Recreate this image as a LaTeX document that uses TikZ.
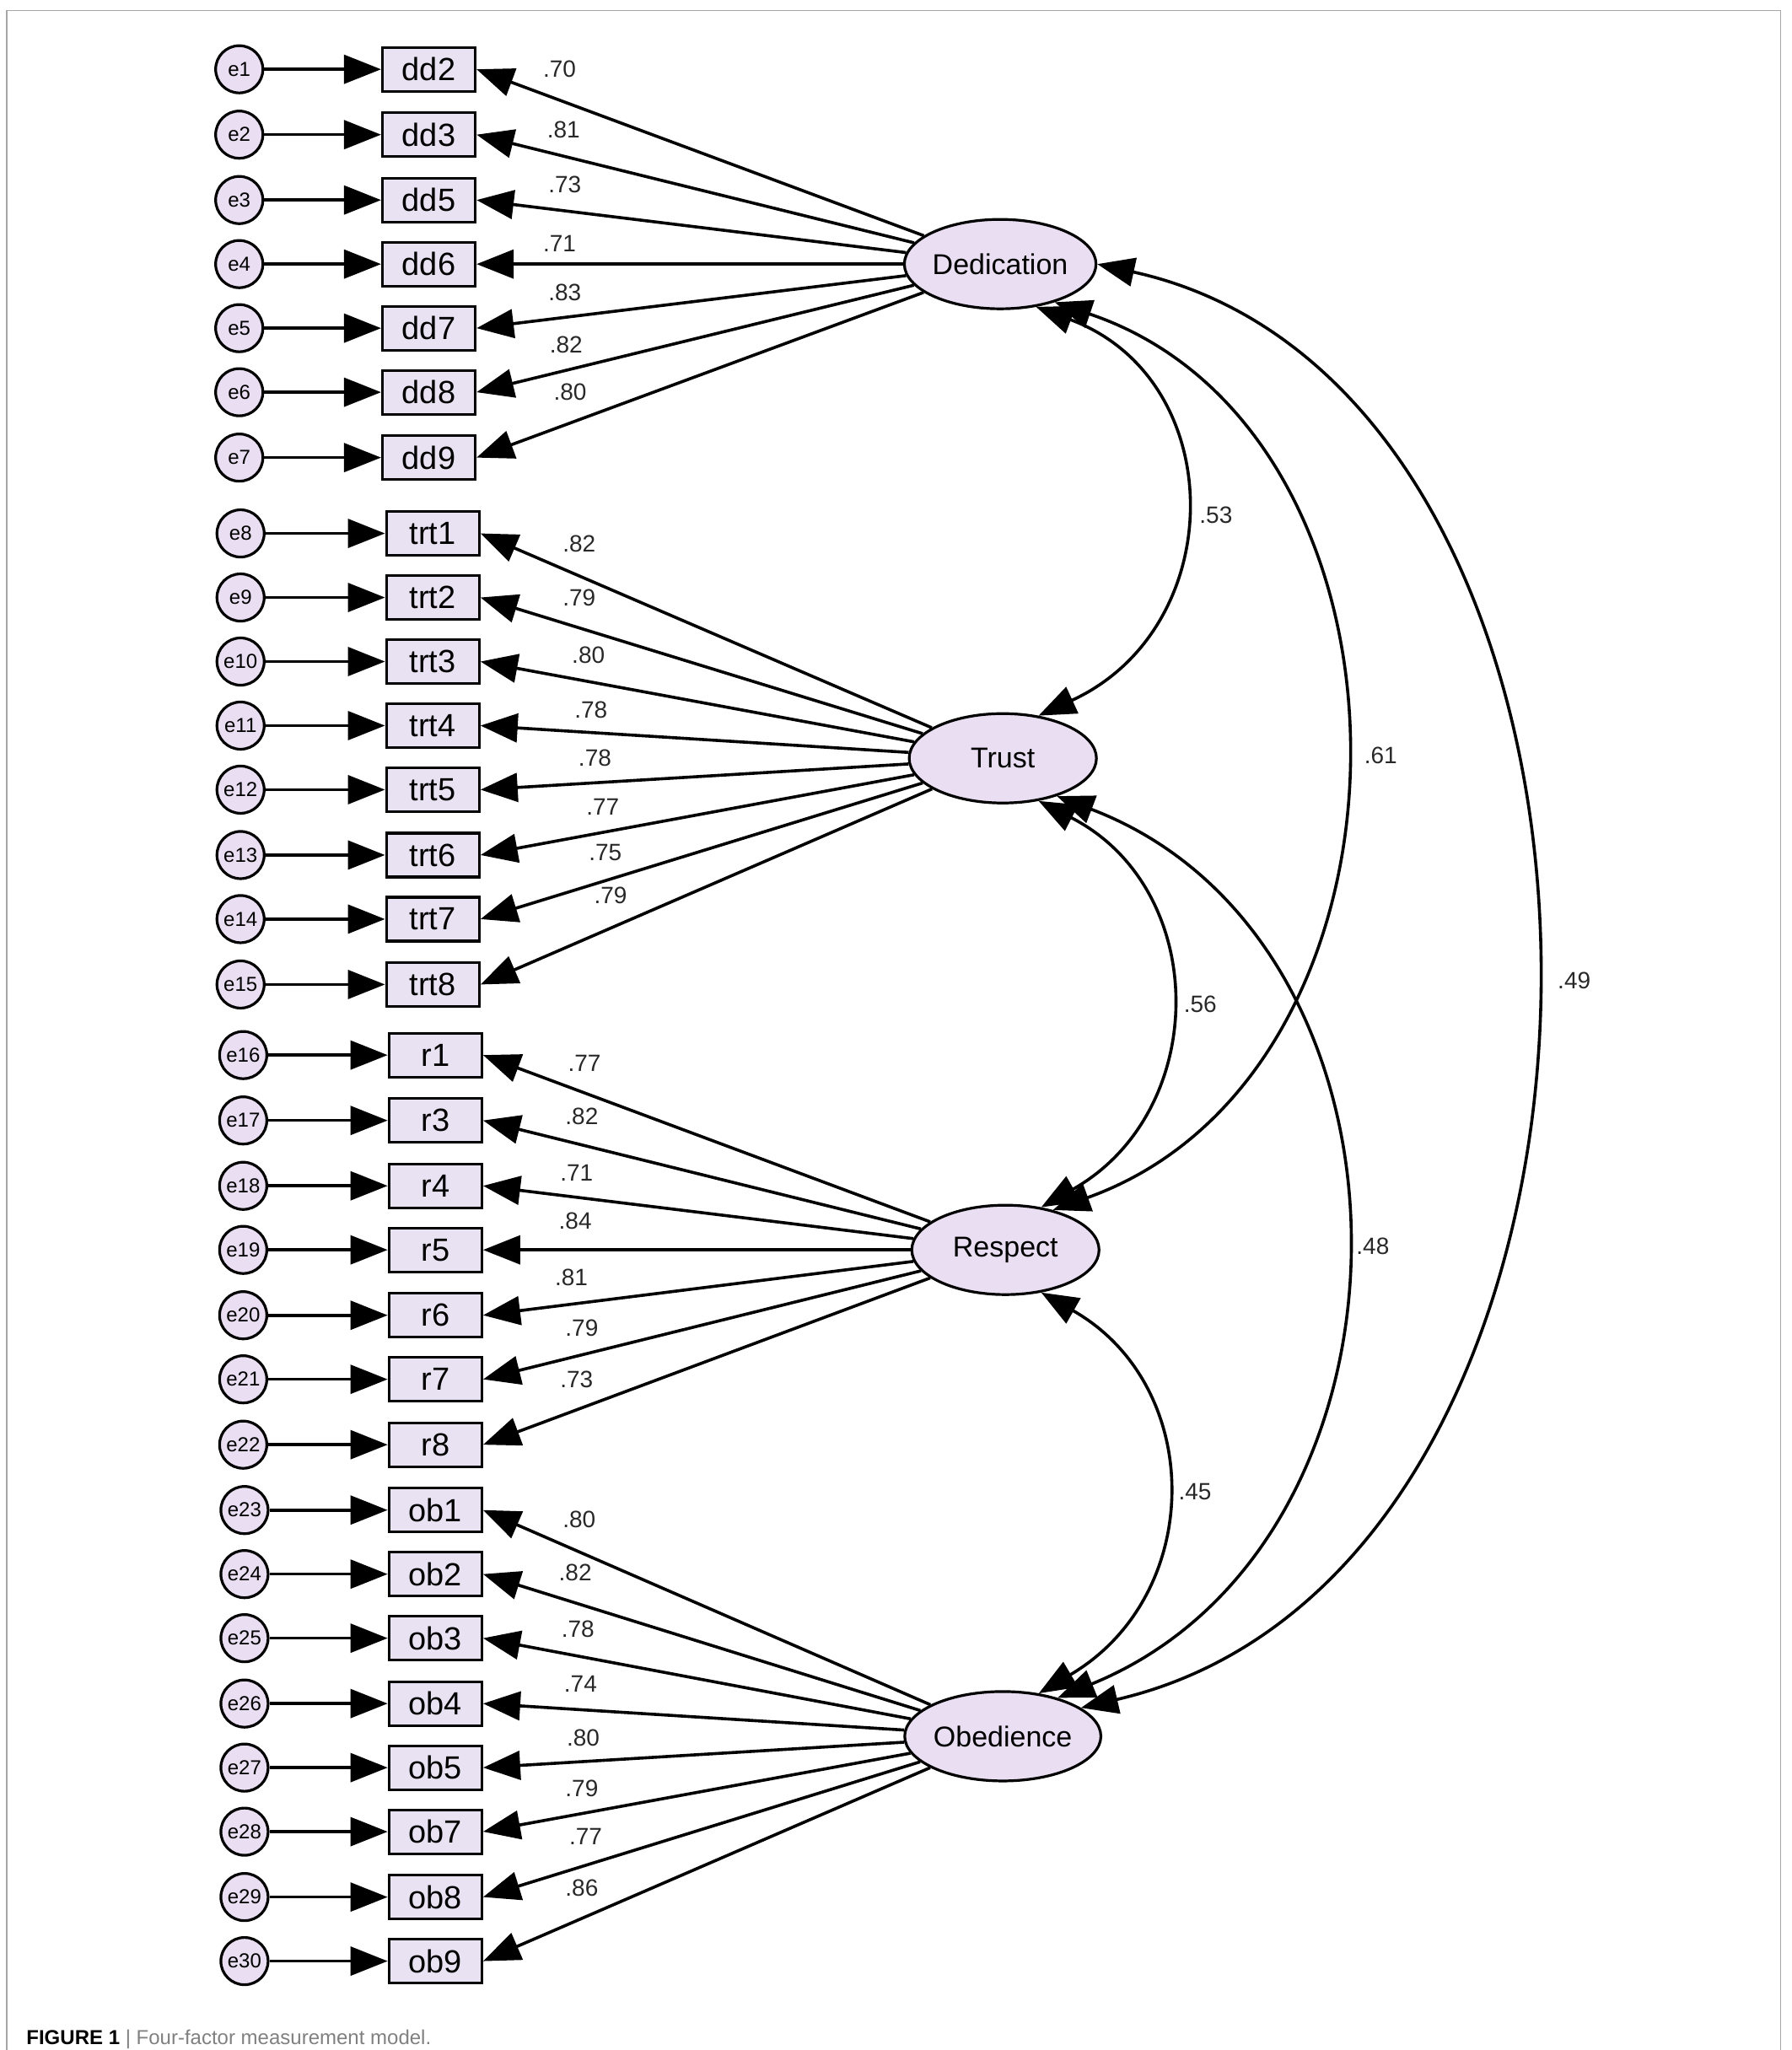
\documentclass[tikz,border=0pt]{standalone}
\usepackage{fontspec}
\setmainfont{Liberation Sans}
\usetikzlibrary{arrows.meta,shapes.geometric}
\definecolor{boxfill}{RGB}{233,226,243}
\definecolor{latfill}{RGB}{234,222,242}
\definecolor{coefc}{RGB}{40,40,40}
\begin{document}
\begin{tikzpicture}[x=0.775pt,y=-0.775pt,
  arr/.style={-{Triangle[length=22pt,width=17pt]},line width=1.8pt},
  darr/.style={{Triangle[length=22pt,width=17pt]}-{Triangle[length=22pt,width=17pt]},line width=1.8pt},
  err/.style={circle,draw,line width=1.6pt,fill=latfill,minimum size=28pt,inner sep=0pt,font=\fontsize{12}{12}\selectfont},
  obs/.style={rectangle,draw,line width=1.6pt,fill=boxfill,minimum width=55pt,minimum height=26pt,inner sep=0pt,font=\fontsize{19}{19}\selectfont},
  lat/.style={ellipse,draw,line width=1.6pt,fill=latfill,minimum width=111pt,minimum height=53pt,inner sep=0pt,font=\fontsize{17}{17}\selectfont},
  coef/.style={text=coefc,font=\fontsize{14}{14}\selectfont}]
\useasboundingbox (0,0) rectangle (1370,1568);
\draw[line width=0.8pt,gray!70] (5,1568) -- (5,8) -- (1362,8) -- (1362,1568);
\node[lat] (ded) at (765,202) {Dedication};
\node[lat] (tru) at (767,580) {Trust};
\node[lat] (res) at (769,956) {Respect};
\node[lat] (obe) at (767,1328) {Obedience};
% Dedication
\foreach \n/\e/\y/\c/\cx/\cy in {dd2/e1/53/.70/428/53, dd3/e2/103/.81/431/99, dd5/e3/153/.73/432/141, dd6/e4/202/.71/428/186, dd7/e5/251/.83/432/224, dd8/e6/300/.82/433/264, dd9/e7/350/.80/436/300}{
  \node[obs] (\n) at (328,\y) {\n};
  \node[err] (\e) at (183,\y) {\e};
  \draw[arr] (\e) -- (\n);
  \draw[arr] (ded) -- (\n.east);
  \node[coef] at (\cx,\cy) {\c};
}
% Trust
\foreach \n/\e/\y/\c/\cx/\cy in {trt1/e8/408/.82/443/416, trt2/e9/457/.79/443/457, trt3/e10/506/.80/450/501, trt4/e11/555/.78/452/543, trt5/e12/604/.78/455/580, trt6/e13/654/.77/461/617, trt7/e14/703/.75/463/652, trt8/e15/753/.79/467/685}{
  \node[obs] (\n) at (331,\y) {\n};
  \node[err] (\e) at (184,\y) {\e};
  \draw[arr] (\e) -- (\n);
  \draw[arr] (tru) -- (\n.east);
  \node[coef] at (\cx,\cy) {\c};
}
% Respect
\foreach \n/\e/\y/\c/\cx/\cy in {r1/e16/807/.77/447/813, r3/e17/857/.82/445/854, r4/e18/907/.71/441/897, r5/e19/956/.84/440/934, r6/e20/1006/.81/437/977, r7/e21/1055/.79/445/1016, r8/e22/1105/.73/441/1055}{
  \node[obs] (\n) at (333,\y) {\n};
  \node[err] (\e) at (186,\y) {\e};
  \draw[arr] (\e) -- (\n);
  \draw[arr] (res) -- (\n.east);
  \node[coef] at (\cx,\cy) {\c};
}
% Obedience
\foreach \n/\e/\y/\c/\cx/\cy in {ob1/e23/1155/.80/443/1162, ob2/e24/1204/.82/440/1203, ob3/e25/1253/.78/442/1246, ob4/e26/1303/.74/444/1288, ob5/e27/1352/.80/446/1329, ob7/e28/1401/.79/445/1368, ob8/e29/1451/.77/448/1405, ob9/e30/1500/.86/445/1444}{
  \node[obs] (\n) at (333,\y) {\n};
  \node[err] (\e) at (187,\y) {\e};
  \draw[arr] (\e) -- (\n);
  \draw[arr] (obe) -- (\n.east);
  \node[coef] at (\cx,\cy) {\c};
}
% covariances
\draw[darr] (ded.-50) .. controls (941,290) and (941,480) .. (tru.50);
\draw[darr] (ded.-35) .. controls (1100,330) and (1100,820) .. (res.40);
\draw[darr] (ded.east) .. controls (1285,300) and (1285,1200) .. (obe.20);
\draw[darr] (tru.-50) .. controls (926,680) and (926,850) .. (res.50);
\draw[darr] (tru.-35) .. controls (1100,720) and (1100,1180) .. (obe.35);
\draw[darr] (res.-50) .. controls (922,1060) and (922,1220) .. (obe.50);
\node[coef] at (930,394) {.53};
\node[coef] at (1056,578) {.61};
\node[coef] at (1204,750) {.49};
\node[coef] at (918,768) {.56};
\node[coef] at (1050,953) {.48};
\node[coef] at (914,1141) {.45};
\node[anchor=north west,font=\fontsize{12}{12}\selectfont,inner sep=0pt] (cap) at (20,1552) {\textbf{FIGURE 1} \textcolor{gray}{| Four-factor measurement model.}};
\end{tikzpicture}
\end{document}
